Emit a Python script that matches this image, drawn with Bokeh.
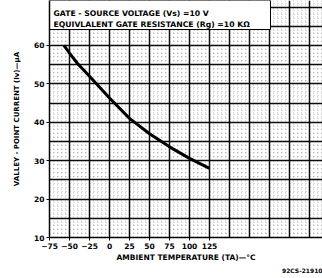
from bokeh.plotting import figure
from bokeh.models import FixedTicker, Label, Range1d, Title
from bokeh.embed import file_html
from bokeh.resources import INLINE

# data
temp_c = [-57, -50, -40, -25, 0, 25, 50, 75, 100, 125]
valley_ua = [60, 58.0, 55.3, 52.0, 46.3, 41.0, 37.0, 33.6, 30.6, 28.0]
x_ticks = [-75, -50, -25, 0, 25, 50, 75, 100, 125]
y_ticks = [10, 20, 30, 40, 50, 60]
title_lines = ["GATE - SOURCE VOLTAGE (Vs) =10 V",
               "EQUIVLALENT GATE RESISTANCE (Rg) =10 KΩ"]
x_title = "AMBIENT TEMPERATURE (TA)—°C"
y_title = "VALLEY - POINT CURRENT (Iv)—μA"
code = "92CS-21910"

FONT = "DejaVu Sans"

p = figure(width=322, height=278, output_backend="svg", toolbar_location=None,
           x_range=Range1d(-75, 266.25), y_range=Range1d(10, 71.7),
           min_border_left=49, min_border_right=0, min_border_top=0,
           min_border_bottom=41)
p.outline_line_color = None
p.background_fill_color = "white"

# grid
p.xgrid.ticker = FixedTicker(ticks=list(range(-75, 275, 25)),
                             minor_ticks=list(range(-75, 270, 5)))
p.ygrid.ticker = FixedTicker(ticks=list(range(10, 75, 5)),
                             minor_ticks=list(range(10, 72, 1)))
for g in (p.xgrid, p.ygrid):
    g.grid_line_color = "black"
    g.grid_line_width = 1.5
    g.grid_line_alpha = 0.95
    g.minor_grid_line_color = "black"
    g.minor_grid_line_alpha = 0.28
    g.minor_grid_line_dash = "1 3"

# axes
p.xaxis.ticker = FixedTicker(ticks=x_ticks)
p.yaxis.ticker = FixedTicker(ticks=y_ticks)
for ax in (p.xaxis, p.yaxis):
    ax.axis_line_color = "black"
    ax.axis_line_width = 1.5
    ax.major_tick_line_color = "black"
    ax.major_tick_out = 3
    ax.major_tick_in = 0
    ax.minor_tick_line_color = None
    ax.major_label_text_font = FONT
    ax.major_label_text_font_style = "bold"
    ax.major_label_text_font_size = "7.5px"
    ax.major_label_text_color = "black"
    ax.axis_label_text_font = FONT
    ax.axis_label_text_font_style = "bold"
    ax.axis_label_text_color = "black"
p.xaxis.major_label_standoff = 2
p.yaxis.major_label_standoff = 2
p.xaxis.axis_label = x_title
p.xaxis.axis_label_text_font_size = "7.5px"
p.xaxis.axis_label_standoff = 1
p.yaxis.axis_label = y_title
p.yaxis.axis_label_text_font_size = "7px"
p.yaxis.axis_label_standoff = 10

# curve
p.line(temp_c, valley_ua, line_color="black", line_width=3)

# header box
p.quad(left=[-75], right=[201.25], bottom=[64.15], top=[71.7],
       fill_color="white", line_color="black", line_width=1)
p.add_layout(Label(x=-70, y=68.3, text=title_lines[0], text_font=FONT,
                   text_font_style="bold", text_font_size="7.7px",
                   text_baseline="middle", text_color="black"))
p.add_layout(Label(x=-70, y=65.5, text=title_lines[1], text_font=FONT,
                   text_font_style="bold", text_font_size="7.7px",
                   text_baseline="middle", text_color="black"))

# drawing code, bottom right
p.add_layout(Title(text=code, align="right", text_font=FONT,
                   text_font_style="bold", text_font_size="6px",
                   text_color="black", standoff=0), "below")

open("out.html", "w").write(file_html(p, INLINE))
